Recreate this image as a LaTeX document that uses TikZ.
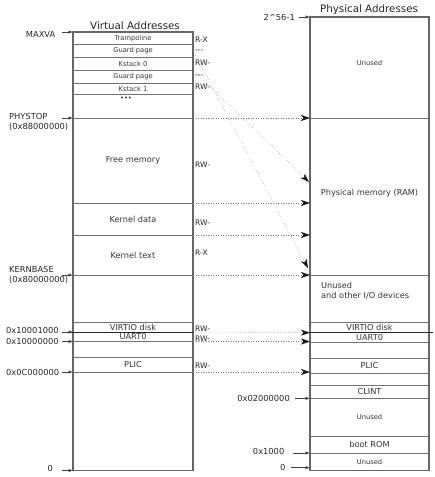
\documentclass[tikz,border=0pt]{standalone}
\usepackage{fontspec}
\setmainfont{DejaVu Sans}
\usetikzlibrary{arrows.meta,positioning}

\begin{document}
\begin{tikzpicture}[x=1pt, y=-1pt]
    \tikzstyle{space}=[rectangle, draw=black!60, line width=1.3pt, minimum width=120pt, inner sep=0pt, outer sep=0pt, anchor=north]
    \tikzstyle{region}=[rectangle, draw=black!55, line width=0.8pt, minimum width=120pt, inner sep=0pt, outer sep=0pt, anchor=north, text=black!80, font=\fontsize{8.2}{9.8}\selectfont]
    \tikzstyle{rowsmall}=[font=\fontsize{6.7}{8}\selectfont]
    \tikzstyle{phys}=[minimum width=119pt]
    \tikzstyle{heading}=[text=black!85, font=\fontsize{10.3}{12}\selectfont]
    \tikzstyle{addr}=[text=black!85, inner sep=0pt, align=left, font=\fontsize{8.3}{10}\selectfont]
    \tikzstyle{perm}=[text=black!85, inner sep=0pt, anchor=west, font=\fontsize{7.6}{9}\selectfont]
    \tikzstyle{connect}=[-{Stealth[length=9pt, width=6pt, inset=2.5pt, black!90]}, dotted, draw=black!55, line width=0.5pt]
    \tikzstyle{tick}=[-{Latex[length=4.5pt, width=3.5pt]}, draw=black!75, line width=0.7pt]
    \tikzstyle{darkline}=[draw=black!85, line width=0.9pt]

    \useasboundingbox (0,0) rectangle (435,477);

    % virtual address space
    \node[heading] (vtitle) at (135,25.5) {Virtual Addresses};
    \node[region, rowsmall, minimum height=12.5pt] (tramp) at (133,32) {Trampoline};
    \node[region, rowsmall, minimum height=12.5pt] (guard0) at (133,44.5) {Guard page};
    \node[region, rowsmall, minimum height=13pt] (kstack0) at (133,57) {Kstack 0};
    \node[region, rowsmall, minimum height=13pt] (guard1) at (133,70) {Guard page};
    \node[region, rowsmall, minimum height=11.5pt] (kstack1) at (133,83) {Kstack 1};
    \node[rowsmall, text=black!80] (more) at (126,98.5) {•••};
    \node[region, minimum height=85pt] (free) at (133,118) {Free memory};
    \node[region, minimum height=32pt] (kdata) at (133,203) {Kernel data};
    \node[region, minimum height=40pt] (ktext) at (133,235) {Kernel text};
    \node[region, minimum height=10pt] (virtio) at (133,322) {VIRTIO disk};
    \node[region, minimum height=9.5pt] (uart) at (133,332) {UART0};
    \node[region, minimum height=15pt] (plic) at (133,357) {PLIC};
    \node[space, minimum height=438.5pt] (vspace) at (133,32) {};

    % access bits
    \node[perm] (ptramp) at (195,39.5) {R-X};
    \node[perm] (pguard0) at (195,51) {-{}-{}-};
    \node[perm] (pkstack0) at (195,63) {RW-};
    \node[perm] (pguard1) at (195,76) {-{}-{}-};
    \node[perm] (pkstack1) at (195,87) {RW-};
    \node[perm] (pfree) at (195,165) {RW-};
    \node[perm] (pkdata) at (195,222.5) {RW-};
    \node[perm] (pktext) at (195,252.5) {R-X};
    \node[perm] (pvirtio) at (195,329) {RW-};
    \node[perm] (puart) at (195,339) {RW-};
    \node[perm] (pplic) at (195,366) {RW-};

    % virtual addresses
    \node[addr, anchor=east] (maxva) at (55.5,34) {MAXVA};
    \node[addr, anchor=north west] (phystop) at (9,113.5) {PHYSTOP\\(0x88000000)};
    \node[addr, anchor=north west] (kernbase) at (9,266.5) {KERNBASE\\(0x80000000)};
    \node[addr, anchor=west] (virtioaddr) at (6,330) {0x10001000};
    \node[addr, anchor=west] (uartaddr) at (6,341) {0x10000000};
    \node[addr, anchor=west] (plicaddr) at (6,372) {0x0C000000};
    \node[addr, anchor=east] (vzero) at (53,468) {0};

    % physical address space
    \node[heading] (ptitle) at (369,9.5) {Physical Addresses};
    \node[region, phys, rowsmall, minimum height=101pt, text depth=9pt] (ptop) at (369.5,17) {Unused};
    \node[region, phys, minimum height=157pt, text depth=9pt] (ram) at (369.5,118) {Physical memory (RAM)};
    \node[region, phys, minimum height=47pt] (io) at (369.5,275) {};
    \node[text=black!80, align=left, inner sep=0pt, anchor=north west, font=\fontsize{8.2}{10}\selectfont] (iotext) at (321,282) {Unused\\and other I/O devices};
    \node[region, phys, minimum height=10.7pt] (virtio2) at (369.5,322) {VIRTIO disk};
    \node[region, phys, minimum height=10pt] (uart2) at (369.5,332.7) {UART0};
    \node[region, phys, minimum height=15pt] (plic2) at (369.5,358.3) {PLIC};
    \node[region, phys, minimum height=12.6pt] (clint) at (369.5,385.7) {CLINT};
    \node[region, phys, rowsmall, minimum height=37.7pt] (unused2) at (369.5,398.3) {Unused};
    \node[region, phys, minimum height=17pt] (boot) at (369.5,436) {boot ROM};
    \node[region, phys, rowsmall, minimum height=17.7pt] (unused3) at (369.5,453) {Unused};
    \node[space, phys, minimum height=453.7pt] (pspace) at (369.5,17) {};
    \draw[darkline] (virtio2.south west) -- ([xshift=4pt]virtio2.south east);

    % physical addresses
    \node[addr, anchor=east] (pmax) at (295,17) {2\textasciicircum 56-1};
    \node[addr, anchor=east] (clintaddr) at (290,398) {0x02000000};
    \node[addr, anchor=east] (romaddr) at (284.5,451.5) {0x1000};
    \node[addr, anchor=east] (pzero) at (285.5,467.5) {0};

    % address ticks
    \draw[tick] ([xshift=-11pt]tramp.north west) -- (tramp.north west);
    \draw[tick] ([xshift=-11pt]free.north west) -- (free.north west);
    \draw[tick] ([xshift=-11pt]ktext.south west) -- (ktext.south west);
    \draw[darkline] ([xshift=-11pt]virtio.south west) -- (virtio.south east);
    \draw[tick] ([xshift=-11pt]virtio.south west) -- (virtio.south west);
    \draw[tick] ([xshift=-11pt]uart.south west) -- (uart.south west);
    \draw[tick] ([xshift=-11pt]plic.south west) -- (plic.south west);
    \draw[tick] ([xshift=-11pt]vspace.south west) -- (vspace.south west);
    \draw[tick] ([xshift=-11pt]ptop.north west) -- (ptop.north west);
    \draw[tick] ([xshift=-15pt]clint.south west) -- (clint.south west);
    \draw[tick] ([xshift=-17pt]boot.south west) -- (boot.south west);
    \draw[tick] ([xshift=-19pt, yshift=3pt]pspace.south west) -- ([yshift=3pt]pspace.south west);

    % mappings
    \coordinate (kstack0map) at (309,182);
    \coordinate (kstack1map) at (308,268);
    \path
      (free.north east) edge [connect] (ram.north west)
      (kdata.north east) edge [connect] (pspace.west |- kdata.north east)
      (ktext.north east) edge [connect] (pspace.west |- ktext.north east)
      (ktext.south east) edge [connect] (ram.south west)
      (virtio.south east) edge [connect] (virtio2.south west)
      (uart.south east) edge [connect] (pspace.west |- uart.south east)
      (plic.south east) edge [connect] (pspace.west |- plic.south east)
      (guard0.east) edge [connect] (kstack1map)
      (kstack0.south east) edge [connect] (kstack0map);
\end{tikzpicture}
\end{document}
